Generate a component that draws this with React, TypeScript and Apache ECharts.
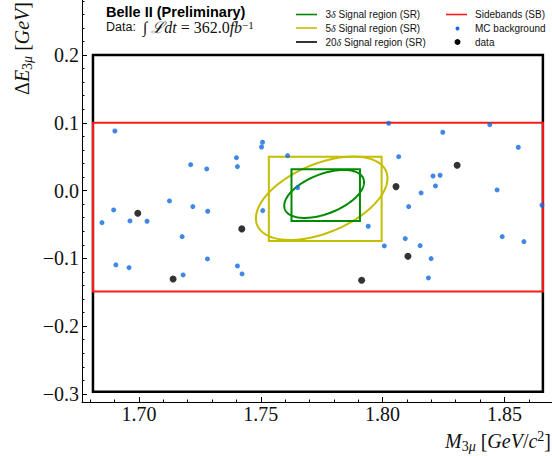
import React, { useEffect, useRef } from 'react';
import * as echarts from 'echarts';

// Axis ticks
const xTicks = [1.70, 1.75, 1.80, 1.85];
const yTicks = [-0.3, -0.2, -0.1, 0.0, 0.1, 0.2];
const xMinorTicks = [1.68, 1.69, 1.71, 1.72, 1.73, 1.74, 1.76, 1.77, 1.78, 1.79, 1.81, 1.82, 1.83, 1.84, 1.86, 1.87];
const yMinorTicks = [-0.28, -0.26, -0.24, -0.22, -0.18, -0.16, -0.14, -0.12, -0.08, -0.06, -0.04, -0.02,
  0.02, 0.04, 0.06, 0.08, 0.12, 0.14, 0.16, 0.18, 0.22, 0.24, 0.26, 0.28];

// MC background points
const mcX = [1.6901, 1.7507, 1.7503, 1.7212, 1.7278, 1.7400, 1.7404, 1.7610, 1.7651, 1.7125,
  1.6896, 1.7221, 1.7282, 1.7508, 1.6848, 1.6963, 1.7033, 1.7177, 1.7281, 1.6905,
  1.6959, 1.7404, 1.7423, 1.7181, 1.8025, 1.8440, 1.8247, 1.8557, 1.8066, 1.8207,
  1.8236, 1.8217, 1.8158, 1.8470, 1.8107, 1.8654, 1.7941, 1.8093, 1.8154, 1.8007,
  1.8491, 1.8580, 1.8199, 1.8188];
const mcY = [0.0879, 0.0712, 0.0643, 0.0382, 0.0319, 0.0485, 0.0353, 0.0515, 0.0043, -0.0153,
  -0.0286, -0.0237, -0.0305, -0.0296, -0.0473, -0.0448, -0.0453, -0.0680, -0.1009, -0.1097,
  -0.1137, -0.1112, -0.1230, -0.1245, 0.0993, 0.0972, 0.0860, 0.0639, 0.0500, 0.0215,
  0.0226, 0.0068, -0.0035, 0.0009, -0.0237, -0.0217, -0.0527, -0.0709, -0.0813, -0.0817,
  -0.0680, -0.0754, -0.1004, -0.1289];

// Data points
const dataX = [1.6995, 1.7422, 1.7140, 1.8306, 1.8055, 1.8104, 1.7914];
const dataY = [-0.0335, -0.0566, -0.1304, 0.0373, 0.0058, -0.0969, -0.1323];

// Regions: [xMin, xMax, yMin, yMax]
const sidebandBox = [1.6811, 1.8658, -0.149, 0.100];
const sr20Box = [1.6811, 1.8658, -0.297, 0.200];
const sr5Box = [1.7533, 1.7996, -0.0743, 0.0500];
const sr3Box = [1.7626, 1.7907, -0.0448, 0.0314];
// Ellipses: [cx, cy, halfX, halfY, correlation]
const sr5Ellipse = [1.7750, -0.0114, 0.0270, 0.0615, 0.48];
const sr3Ellipse = [1.7760, -0.0050, 0.01638, 0.0354, 0.49];

const X_MIN = 1.6766, X_MAX = 1.872;
const Y_MIN = -0.312, Y_MAX = 0.29;

const SERIF = '"Liberation Serif", "DejaVu Serif", serif';
const SANS = '"Liberation Sans", Arial, sans-serif';

const GREEN = '#008a00';
const YELLOW = '#c4bd00';
const RED = '#ff1a1a';
const BLUE = '#0f6ae0';

function boxSeries(name: string, box: number[], color: string, width: number) {
  return {
    type: 'custom',
    name,
    clip: false,
    data: [box],
    encode: { x: [0, 1], y: [2, 3] },
    renderItem: (_p: any, api: any) => {
      const p1 = api.coord([api.value(0), api.value(3)]);
      const p2 = api.coord([api.value(1), api.value(2)]);
      return {
        type: 'rect',
        shape: { x: p1[0], y: p1[1], width: p2[0] - p1[0], height: p2[1] - p1[1] },
        style: { fill: 'none', stroke: color, lineWidth: width },
      };
    },
  };
}

function ellipseSeries(name: string, e: number[], color: string, width: number) {
  return {
    type: 'custom',
    name,
    clip: false,
    data: [e],
    encode: { x: 0, y: 1 },
    renderItem: (_p: any, api: any) => {
      const cx = api.value(0), cy = api.value(1), hx = api.value(2), hy = api.value(3), rho = api.value(4);
      const phi = Math.acos(rho);
      const pts: number[][] = [];
      for (let i = 0; i <= 200; i++) {
        const t = (i / 200) * Math.PI * 2;
        pts.push(api.coord([cx + hx * Math.cos(t), cy + hy * Math.cos(t + phi)]));
      }
      return {
        type: 'polyline',
        shape: { points: pts },
        style: { fill: 'none', stroke: color, lineWidth: width },
      };
    },
  };
}

const mathRich = (size: number) => ({
  up: { fontFamily: SERIF, fontSize: size, lineHeight: size + 4, fill: '#111' },
  it: { fontFamily: SERIF, fontSize: size, fontStyle: 'italic', lineHeight: size + 4, fill: '#111' },
  sub: { fontFamily: SERIF, fontSize: size * 0.7, lineHeight: size * 0.7, verticalAlign: 'bottom', fill: '#111' },
  subi: { fontFamily: SERIF, fontSize: size * 0.7, fontStyle: 'italic', lineHeight: size * 0.7, verticalAlign: 'bottom', fill: '#111' },
  sup: { fontFamily: SERIF, fontSize: size * 0.7, lineHeight: size * 0.7, verticalAlign: 'top', fill: '#111' },
});

function legendLine(x: number, y: number, color: string) {
  return { type: 'line', shape: { x1: x, y1: y, x2: x + 21, y2: y }, style: { stroke: color, lineWidth: 1.6 } };
}

function legendText(x: number, y: number, text: string) {
  return {
    type: 'text', x, y,
    style: {
      text, verticalAlign: 'middle',
      rich: {
        s: { fontFamily: SANS, fontSize: 10, fill: '#111' },
        d: { fontFamily: SERIF, fontSize: 10, fontStyle: 'italic', fill: '#111' },
      },
    },
  };
}

export default function App() {
  const ref = useRef<HTMLDivElement>(null);
  useEffect(() => {
    if (!ref.current) return;
    const chart = echarts.init(ref.current, undefined, { renderer: 'svg' });
    const tickLabel = {
      fontFamily: SERIF, fontSize: 20, color: '#111',
    };
    chart.setOption({
      animation: false,
      backgroundColor: '#fff',
      grid: { left: 82, right: -6, top: -6, bottom: 54, outerBoundsMode: 'none', containLabel: false },
      xAxis: [
        {
          type: 'value', min: X_MIN, max: X_MAX, position: 'bottom',
          axisLine: { show: true, onZero: false, lineStyle: { color: '#000', width: 1 } },
          axisTick: { show: true, inside: true, length: 5, customValues: xTicks, lineStyle: { color: '#000' } },
          axisLabel: { ...tickLabel, customValues: xTicks, margin: 2, formatter: (v: number) => v.toFixed(2) },
          splitLine: { show: false },
        },
        {
          type: 'value', min: X_MIN, max: X_MAX, position: 'bottom', gridIndex: 0,
          axisLine: { show: false, onZero: false },
          axisTick: { show: true, inside: true, length: 2.5, customValues: xMinorTicks, lineStyle: { color: '#000' } },
          axisLabel: { show: false },
          splitLine: { show: false },
        },
      ],
      yAxis: [
        {
          type: 'value', min: Y_MIN, max: Y_MAX, position: 'left',
          axisLine: { show: true, onZero: false, lineStyle: { color: '#000', width: 1 } },
          axisTick: { show: true, inside: true, length: 5, customValues: yTicks, lineStyle: { color: '#000' } },
          axisLabel: {
            ...tickLabel, customValues: yTicks, margin: 3,
            formatter: (v: number) => v.toFixed(1).replace('-', '\u2212'),
          },
          splitLine: { show: false },
        },
        {
          type: 'value', min: Y_MIN, max: Y_MAX, position: 'left', gridIndex: 0,
          axisLine: { show: false, onZero: false },
          axisTick: { show: true, inside: true, length: 2.5, customValues: yMinorTicks, lineStyle: { color: '#000' } },
          axisLabel: { show: false },
          splitLine: { show: false },
        },
      ],
      series: [
        boxSeries('20δ Signal region (SR)', sr20Box, '#000', 2.5),
        boxSeries('Sidebands (SB)', sidebandBox, RED, 2),
        boxSeries('5δ box', sr5Box, YELLOW, 2),
        ellipseSeries('5δ Signal region (SR)', sr5Ellipse, YELLOW, 2),
        boxSeries('3δ box', sr3Box, GREEN, 2),
        ellipseSeries('3δ Signal region (SR)', sr3Ellipse, GREEN, 2),
        {
          type: 'scatter', name: 'MC background', symbol: 'circle', symbolSize: 5,
          itemStyle: { color: BLUE }, data: mcX.map((x, i) => [x, mcY[i]]),
        },
        {
          type: 'scatter', name: 'data', symbol: 'circle', symbolSize: 7,
          itemStyle: { color: '#000' }, data: dataX.map((x, i) => [x, dataY[i]]),
        },
      ],
      graphic: [
        {
          type: 'text', x: 106, y: 12,
          style: { text: 'Belle II (Preliminary)', fontFamily: SANS, fontWeight: 'bold', fontSize: 14.5, fill: '#000', verticalAlign: 'middle' },
        },
        {
          type: 'text', x: 106, y: 27,
          style: {
            text: '{s|Data:  }{up|∫ }{it|ℒdt}{up| = 362.0}{it|fb}{sup|−1}',
            verticalAlign: 'middle',
            rich: {
              s: { fontFamily: SANS, fontSize: 12.5, lineHeight: 16, fill: '#111' },
              up: { fontFamily: SERIF, fontSize: 16, lineHeight: 16, fill: '#111' },
              it: { fontFamily: SERIF, fontSize: 16, fontStyle: 'italic', lineHeight: 16, fill: '#111' },
              sup: { fontFamily: SERIF, fontSize: 11, lineHeight: 11, verticalAlign: 'top', fill: '#111' },
            },
          },
        },
        legendLine(296, 14.5, GREEN),
        legendText(325.5, 14.5, '{s|3}{d|δ}{s| Signal region (SR)}'),
        legendLine(296, 28, YELLOW),
        legendText(325.5, 28, '{s|5}{d|δ}{s| Signal region (SR)}'),
        legendLine(296, 42, '#000'),
        legendText(325.5, 42, '{s|20}{d|δ}{s| Signal region (SR)}'),
        legendLine(446, 14.5, RED),
        legendText(475, 14.5, '{s|Sidebands (SB)}'),
        { type: 'circle', shape: { cx: 457.5, cy: 28.5, r: 2 }, style: { fill: BLUE } },
        legendText(475, 28, '{s|MC background}'),
        { type: 'circle', shape: { cx: 457.5, cy: 42, r: 3 }, style: { fill: '#000' } },
        legendText(475, 42, '{s|data}'),
        {
          type: 'text', x: 22, y: 2, rotation: Math.PI / 2,
          style: {
            text: '{up|Δ}{it|E}{sub|3}{subi|μ}{up| [}{it|GeV}{up|]}',
            align: 'right', verticalAlign: 'middle',
            rich: mathRich(20),
          },
        },
        {
          type: 'text', x: 551, y: 441,
          style: {
            text: '{it|M}{sub|3}{subi|μ}{up| [}{it|GeV}{up|/}{it|c}{sup|2}{up|]}',
            align: 'right', verticalAlign: 'middle',
            rich: mathRich(20),
          },
        },
      ],
    });
    return () => chart.dispose();
  }, []);
  return <div ref={ref} style={{ position: 'fixed', left: 0, top: 0, width: 552, height: 456 }} />;
}
